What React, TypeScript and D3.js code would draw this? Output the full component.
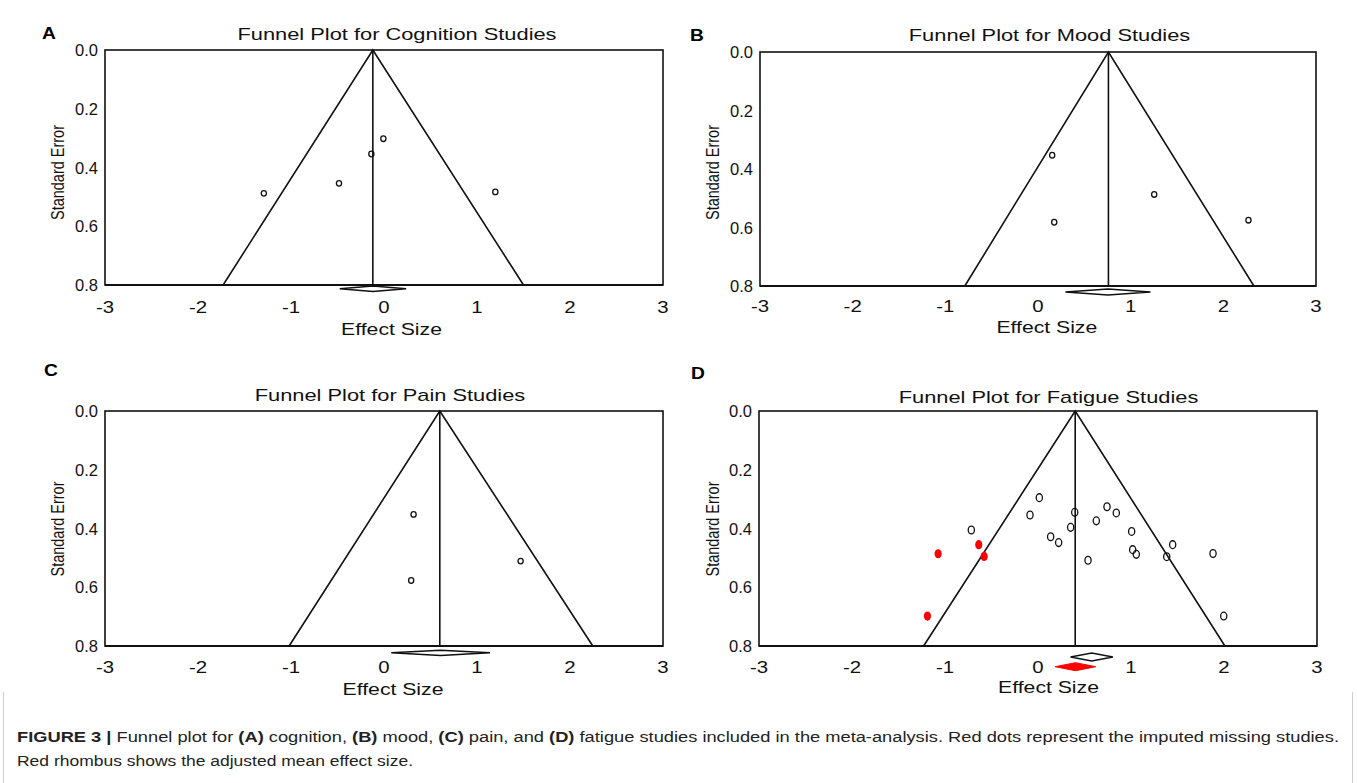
import React from "react";
import * as d3 from "d3";

// ---------- data ----------
const panelLetters = ["A", "B", "C", "D"];
const panelTitles = [
  "Funnel Plot for Cognition Studies",
  "Funnel Plot for Mood Studies",
  "Funnel Plot for Pain Studies",
  "Funnel Plot for Fatigue Studies",
];
const xTicks = [-3, -2, -1, 0, 1, 2, 3];
const yTicks = [0, 0.2, 0.4, 0.6, 0.8];
const yTickLabels = ["0.0", "0.2", "0.4", "0.6", "0.8"];
const xAxisLabel = "Effect Size";
const yAxisLabel = "Standard Error";

// pooled mean effect (funnel apex) per panel
const meanEffect = [-0.12, 0.76, 0.6, 0.4];
// funnel limits at SE = 0.8
const funnelLower = [-1.73, -0.79, -1.02, -1.23];
const funnelUpper = [1.5, 2.33, 2.245, 2.01];
// summary diamond (lower / upper CI)
const diamondLower = [-0.476, 0.296, 0.078, 0.35];
const diamondUpper = [0.238, 1.214, 1.139, 0.805];
// adjusted (trim-and-fill) diamond, fatigue panel only
const adjustedLower = [0.184];
const adjustedUpper = [0.621];

const cognitionEffect = [-0.007, -0.136, -0.484, -1.292, 1.197];
const cognitionSE = [0.302, 0.354, 0.454, 0.488, 0.483];

const moodEffect = [0.153, 0.175, 1.254, 2.271];
const moodSE = [0.353, 0.582, 0.487, 0.575];

const painEffect = [0.318, 0.292, 1.469];
const painSE = [0.352, 0.577, 0.511];

const fatigueEffect = [
  0.014, -0.086, 0.395, 0.351, 0.136, 0.222, 0.538, 0.627, 0.742, 0.842,
  1.007, 1.018, 1.057, 1.384, 1.448, 1.882, 1.997, -0.717,
];
const fatigueSE = [
  0.295, 0.354, 0.345, 0.396, 0.428, 0.448, 0.508, 0.374, 0.326, 0.347,
  0.41, 0.472, 0.488, 0.496, 0.455, 0.485, 0.698, 0.405,
];
const imputedEffect = [-1.074, -0.637, -0.579, -1.189];
const imputedSE = [0.486, 0.455, 0.495, 0.698];

const studyEffects = [cognitionEffect, moodEffect, painEffect, fatigueEffect];
const studySEs = [cognitionSE, moodSE, painSE, fatigueSE];

// ---------- layout (styling only) ----------
const layout = [
  { x0: 105, x1: 663, y0: 50, y1: 285, letter: [42, 38.5], title: [397, 40], xl: [391.5, 335], yl: [64, 172.5], diamondDy: 3.7, dh: 2.7, tickDy: 27 },
  { x0: 760, x1: 1316, y0: 52, y1: 286, letter: [690, 40.5], title: [1049.5, 40.5], xl: [1046.8, 333], yl: [719, 172.5], diamondDy: 6, dh: 3, tickDy: 25 },
  { x0: 105, x1: 663, y0: 411, y1: 646, letter: [44, 375.5], title: [390, 400.5], xl: [393, 695], yl: [64, 529], diamondDy: 6.8, dh: 2.6, tickDy: 26 },
  { x0: 759, x1: 1317, y0: 411, y1: 646, letter: [691, 378.5], title: [1048.5, 402.5], xl: [1048.5, 693], yl: [719, 529], diamondDy: 11, dh: 4, tickDy: 26 },
];

const SX = 1.3; // horizontal stretch of the figure's text
const FONT = "'Liberation Sans', Arial, Helvetica, sans-serif";

function SText({ x, y, rotate = 0, sx = SX, children, ...rest }: any) {
  const t = `translate(${x},${y}) scale(${sx},1)` + (rotate ? ` rotate(${rotate})` : "");
  return (
    <text transform={t} fontFamily={FONT} {...rest}>
      {children}
    </text>
  );
}

function diamondPath(lo: number, hi: number, cy: number, h: number) {
  const cx = (lo + hi) / 2;
  return `M${lo},${cy} L${cx},${cy - h} L${hi},${cy} L${cx},${cy + h} Z`;
}

function Panel({ i }: { i: number }) {
  const L = layout[i];
  const x = d3.scaleLinear().domain([-3, 3]).range([L.x0, L.x1]);
  const y = d3.scaleLinear().domain([0, 0.8]).range([L.y0, L.y1]);
  const m = meanEffect[i];
  const funnel = d3.line<[number, number]>()
    .x((d) => x(d[0]))
    .y((d) => y(d[1]));
  const funnelPts: [number, number][] = [
    [funnelLower[i], 0.8],
    [m, 0],
    [funnelUpper[i], 0.8],
  ];
  const effects = studyEffects[i];
  const ses = studySEs[i];
  const isFatigue = i === 3;
  const rx = isFatigue ? 3.1 : 2.6;
  const ry = isFatigue ? 3.9 : 2.8;
  const dCy = L.y1 + L.diamondDy;

  return (
    <g>
      <SText x={L.letter[0]} y={L.letter[1]} sx={1.2} fontSize={16} fontWeight="bold" fill="#000">
        {panelLetters[i]}
      </SText>
      <SText x={L.title[0]} y={L.title[1]} fontSize={16.8} textAnchor="middle" fill="#111">
        {panelTitles[i]}
      </SText>
      {/* box */}
      <rect x={L.x0} y={L.y0} width={L.x1 - L.x0} height={L.y1 - L.y0} fill="none" stroke="#111" strokeWidth={1.6} />
      <line x1={L.x0} x2={L.x1} y1={L.y1} y2={L.y1} stroke="#111" strokeWidth={2} />
      {/* funnel */}
      <path d={funnel(funnelPts) || ""} fill="none" stroke="#111" strokeWidth={1.6} />
      <line x1={x(m)} x2={x(m)} y1={y(0)} y2={y(0.8)} stroke="#111" strokeWidth={1.6} />
      {/* studies */}
      {effects.map((e, k) => (
        <ellipse key={k} cx={x(e)} cy={y(ses[k])} rx={rx} ry={ry} fill="none" stroke="#111" strokeWidth={1.3} />
      ))}
      {isFatigue &&
        imputedEffect.map((e, k) => (
          <ellipse key={"imp" + k} cx={x(e)} cy={y(imputedSE[k])} rx={3.6} ry={4.6} fill="#ff0000" />
        ))}
      {/* summary diamond */}
      <path d={diamondPath(x(diamondLower[i]), x(diamondUpper[i]), dCy, L.dh)} fill="#fff" stroke="#111" strokeWidth={1.5} />
      {isFatigue && (
        <path d={diamondPath(x(adjustedLower[0]), x(adjustedUpper[0]), L.y1 + 20.7, 4)} fill="#ff0000" stroke="#ff0000" strokeWidth={1} />
      )}
      {/* y ticks */}
      {yTicks.map((t, k) => (
        <SText key={"y" + k} x={L.x0 - 7} y={y(t) + 6} sx={1.0} fontSize={16.5} textAnchor="end" fill="#111">
          {yTickLabels[k]}
        </SText>
      ))}
      {/* x ticks */}
      {xTicks.map((t) => (
        <SText key={"x" + t} x={x(t)} y={L.y1 + L.tickDy + 0.5} sx={1.2} fontSize={17} textAnchor="middle" fill="#111">
          {String(t)}
        </SText>
      ))}
      <SText x={L.xl[0]} y={L.xl[1]} fontSize={16.3} textAnchor="middle" fill="#111">
        {xAxisLabel}
      </SText>
      <SText x={L.yl[0]} y={L.yl[1]} rotate={-90} fontSize={14.5} textAnchor="middle" fill="#111">
        {yAxisLabel}
      </SText>
    </g>
  );
}

const captionLine1 = [
  { t: "FIGURE 3 | ", b: true },
  { t: "Funnel plot for ", b: false },
  { t: "(A)", b: true },
  { t: " cognition, ", b: false },
  { t: "(B)", b: true },
  { t: " mood, ", b: false },
  { t: "(C)", b: true },
  { t: " pain, and ", b: false },
  { t: "(D)", b: true },
  { t: " fatigue studies included in the meta-analysis. Red dots represent the imputed missing studies.", b: false },
];
const captionLine2 = "Red rhombus shows the adjusted mean effect size.";

export default function App() {
  const capFont = "'Liberation Sans Narrow', 'Liberation Sans', Arial, sans-serif";
  return (
    <svg width={1357} height={783} style={{ position: "absolute", left: 0, top: 0, background: "#fff" }}>
      <rect x={0} y={0} width={1357} height={783} fill="#fff" />
      {[0, 1, 2, 3].map((i) => (
        <Panel key={i} i={i} />
      ))}
      <line x1={3.5} x2={3.5} y1={692} y2={783} stroke="#cfcfcf" strokeWidth={1} />
      <line x1={1352.5} x2={1352.5} y1={692} y2={783} stroke="#cfcfcf" strokeWidth={1} />
      <text x={17} y={742} fontFamily={capFont} fontSize={15.5} fill="#222" textLength={1322} lengthAdjust="spacingAndGlyphs">
        {captionLine1.map((s, k) => (
          <tspan key={k} fontWeight={s.b ? "bold" : "normal"}>
            {s.t}
          </tspan>
        ))}
      </text>
      <text x={17} y={766} fontFamily={capFont} fontSize={15.5} fill="#222" textLength={396} lengthAdjust="spacingAndGlyphs">
        {captionLine2}
      </text>
    </svg>
  );
}
